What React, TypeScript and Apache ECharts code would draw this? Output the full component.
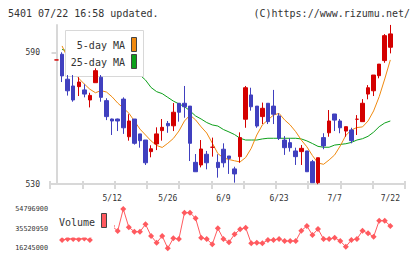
import React, { useEffect, useRef } from 'react';
import * as echarts from 'echarts';

const dates = ['4/23','4/24','4/25','4/28','4/30','5/1','5/2','5/7','5/8','5/9',
  '5/12','5/13','5/14','5/15','5/16','5/19','5/20','5/21','5/22','5/23',
  '5/26','5/27','5/28','5/29','5/30','6/2','6/3','6/4','6/5','6/6',
  '6/9','6/10','6/11','6/12','6/13','6/16','6/17','6/18','6/19','6/20',
  '6/23','6/24','6/25','6/26','6/27','6/30','7/1','7/2','7/3','7/4',
  '7/7','7/8','7/9','7/10','7/11','7/14','7/15','7/16','7/17','7/18','7/22'];

const dateLabelIdx = [10, 20, 30, 40, 50, 60];
const priceTicks = [530, 590];
const volumeTicks = [16245000, 35520950, 54796900];

const open = [586.7, 589.3, 577.9, 574.8, 574.5, 573.0, 568.4, 576.3, 578.8, 568.1,
  559.7, 559.7, 568.8, 551.6, 559.7, 552.9, 550.1, 544.8, 548.3, 554.4,
  557.7, 556.6, 566.9, 566.9, 565.6, 539.9, 538.7, 543.6, 546.8, 539.9,
  545.9, 542.8, 536.9, 542.5, 559.6, 570.7, 565.6, 560.8, 566.9, 565.6,
  561.1, 550.1, 548.9, 545.1, 544.8, 545.1, 540.2, 530.6, 551.2, 553.4,
  562.0, 558.8, 554.2, 554.7, 559.6, 558.5, 571.1, 572.6, 579.5, 586.4, 592.5];
const close = [586.7, 579.4, 572.6, 568.4, 576.6, 571.1, 570.5, 581.8, 569.6, 560.8,
  558.8, 558.8, 555.7, 558.8, 548.6, 549.8, 539.7, 546.1, 552.9, 555.9,
  556.6, 562.8, 562.8, 565.3, 548.6, 535.6, 546.0, 539.7, 546.8, 537.5,
  539.7, 541.7, 534.6, 551.2, 574.0, 565.3, 556.5, 564.6, 558.5, 561.9,
  550.9, 546.6, 546.6, 542.5, 546.3, 535.6, 530.6, 542.0, 547.4, 558.8,
  559.2, 555.7, 556.2, 549.8, 559.6, 566.9, 574.0, 579.8, 584.8, 597.8, 598.6];
const low = [586.7, 576.6, 570.4, 567.6, 570.2, 569.6, 565.0, 576.3, 567.6, 559.2,
  552.4, 554.2, 552.9, 549.8, 548.0, 546.6, 538.7, 542.2, 545.5, 549.8,
  553.4, 554.2, 558.5, 560.3, 540.5, 535.6, 537.6, 536.7, 542.5, 532.9,
  537.6, 534.6, 530.6, 539.7, 555.7, 563.5, 555.7, 557.4, 557.4, 557.4,
  550.1, 543.3, 544.8, 538.7, 538.7, 535.6, 530.6, 529.9, 545.9, 551.6,
  554.2, 553.2, 551.6, 548.6, 552.4, 558.5, 568.7, 570.2, 578.3, 585.4, 589.7];
const high = [586.7, 590.2, 579.8, 579.8, 578.8, 575.6, 571.7, 582.9, 579.8, 569.2,
  559.9, 559.9, 569.6, 561.9, 559.7, 552.9, 550.1, 547.7, 555.9, 559.7,
  558.8, 567.0, 566.9, 574.8, 565.6, 543.7, 550.1, 545.1, 551.2, 543.6,
  548.6, 542.8, 537.9, 553.6, 574.8, 574.0, 565.6, 567.2, 566.9, 573.0,
  562.3, 551.9, 550.9, 546.6, 547.8, 545.1, 541.0, 542.0, 553.2, 563.8,
  562.0, 559.7, 556.2, 555.7, 561.5, 568.8, 575.2, 579.8, 584.8, 598.5, 602.7];

const ma5 = [null, 593.1, 587.6, 582.1, 578.3, 575.7, 573.3, 571.7, 572.7, 572.0,
  569.8, 567.0, 564.7, 562.4, 558.8, 555.1, 552.4, 549.7, 547.6, 546.7,
  548.6, 550.8, 554.2, 558.8, 561.5, 559.3, 556.1, 553.3, 548.7, 543.9,
  541.9, 541.2, 540.6, 540.1, 542.1, 546.3, 552.4, 557.0, 559.3, 561.5,
  562.3, 559.3, 557.0, 553.9, 550.1, 547.0, 543.0, 539.6, 539.0, 541.0,
  543.3, 547.4, 552.2, 554.7, 555.8, 556.1, 558.8, 563.4, 569.9, 578.0, 586.7];
const ma25 = [null, 591.5, 590.8, 590.1, 589.4, 588.7, 588.0, 587.6, 586.9, 586.2,
  585.5, 584.6, 583.7, 582.6, 581.4, 579.8, 577.5, 574.1, 572.2, 571.3,
  569.6, 567.9, 566.6, 565.4, 563.4, 561.1, 559.7, 558.1, 557.0, 556.5,
  554.9, 553.8, 552.6, 550.9, 550.1, 550.1, 550.1, 550.6, 550.9, 550.9,
  550.9, 550.9, 550.9, 550.9, 550.6, 549.7, 548.5, 547.2, 546.8, 546.8,
  547.8, 548.1, 548.4, 549.0, 550.1, 550.7, 551.8, 553.7, 556.2, 557.9, 558.8];
const volume = [null, 24390000, 25370000, 25400000, 25070000, 25860000, 24390000, 38000000, 36000000, 33000000,
  38000000, 33220000, 54796900, 36850000, 32530000, 32530000, 39790000, 28310000, 21740000, 28310000,
  16245000, 26050000, 25370000, 51170000, 51170000, 45670000, 26640000, 25370000, 20170000, 35860000,
  25370000, 22130000, 29980000, 34880000, 36450000, 21150000, 21740000, 21150000, 24390000, 24390000,
  25370000, 23410000, 23410000, 23410000, 33510000, 38120000, 29290000, 35180000, 25370000, 25370000,
  26640000, 23410000, 17810000, 24390000, 25370000, 33510000, 30960000, 27620000, 43320000, 43320000, 38120000];

const FONT = '"DejaVu Sans Mono", "Liberation Mono", monospace';
const UP = '#d40000';
const DOWN = '#4040bf';
const MA5C = '#f08a10';
const MA25C = '#0da01a';
const VOLC = '#ff5a5f';
const AXISC = '#d8d8d8';
const X_MIN = -1.17;
const X_MAX = 62.64;

const pairs = (arr: (number | null)[]) =>
  arr.map((v, i) => (v == null ? null : [i, v])).filter((p) => p !== null);

export default function App() {
  const ref = useRef<HTMLDivElement>(null);
  useEffect(() => {
    document.body.style.margin = '0';
    if (!ref.current) return;
    const chart = echarts.init(ref.current, undefined, { renderer: 'svg' });
    const candleData = dates.map((_, i) => [i, open[i], close[i], low[i], high[i]]);
    chart.setOption({
      animation: false,
      grid: [
        { left: 50, right: 15, top: 25, height: 159, outerBoundsMode: 'none' },
        { left: 50, right: 15, top: 209, height: 39.3, outerBoundsMode: 'none' },
      ],
      xAxis: [
        {
          gridIndex: 0, type: 'value', min: X_MIN, max: X_MAX,
          axisLine: { show: true, onZero: false, lineStyle: { color: AXISC, width: 2 } },
          axisTick: { show: false },
          splitLine: { show: false },
          axisLabel: {
            customValues: dateLabelIdx,
            formatter: (v: number) => dates[Math.round(v)] ?? '',
            fontSize: 8, fontFamily: FONT, color: '#333', margin: 10,
          },
        },
        {
          gridIndex: 0, type: 'value', min: 0, max: 11, interval: 1, position: 'bottom',
          axisLine: { show: false }, axisLabel: { show: false }, splitLine: { show: false },
          axisTick: { show: true, length: 5, lineStyle: { color: AXISC, width: 2 } },
        },
        {
          gridIndex: 0, type: 'value', min: 0, max: 11, interval: 1, position: 'bottom',
          axisLine: { show: false }, axisLabel: { show: false }, splitLine: { show: false },
          axisTick: { show: true, inside: true, length: 3, lineStyle: { color: AXISC, width: 2 } },
        },
        { gridIndex: 1, type: 'value', min: X_MIN, max: X_MAX, show: false },
      ],
      yAxis: [
        {
          gridIndex: 0, type: 'value', min: 530, max: 602.67,
          splitLine: { show: false },
          axisLine: { show: true, lineStyle: { color: AXISC, width: 2 } },
          axisTick: { show: true, length: 5, customValues: priceTicks, lineStyle: { color: AXISC, width: 2 } },
          axisLabel: { customValues: priceTicks, fontSize: 8, fontFamily: FONT, color: '#333', margin: 10 },
        },
        {
          gridIndex: 1, type: 'value', min: volumeTicks[0], max: volumeTicks[2],
          splitLine: { show: false },
          axisLine: { show: false },
          axisTick: { show: false },
          axisLabel: {
            customValues: volumeTicks,
            formatter: (v: number) => String(Math.round(v)),
            fontSize: 6.8, fontFamily: FONT, color: '#333', margin: 2,
          },
        },
      ],
      series: [
        {
          type: 'line', name: '25-day MA', xAxisIndex: 0, yAxisIndex: 0, z: 2,
          data: pairs(ma25), showSymbol: false, symbol: 'none',
          lineStyle: { color: MA25C, width: 1 },
        },
        {
          type: 'line', name: '5-day MA', xAxisIndex: 0, yAxisIndex: 0, z: 2,
          data: pairs(ma5), showSymbol: false, symbol: 'none',
          lineStyle: { color: MA5C, width: 1 },
        },
        {
          type: 'candlestick', xAxisIndex: 0, yAxisIndex: 0, z: 4,
          dimensions: ['i', 'open', 'close', 'low', 'high'],
          encode: { x: 'i', y: ['open', 'close', 'low', 'high'] },
          data: candleData, barWidth: 4,
          itemStyle: { color: UP, color0: DOWN, borderColor: UP, borderColor0: DOWN, borderWidth: 1 },
        },
        {
          type: 'line', name: 'Volume', xAxisIndex: 3, yAxisIndex: 1, z: 2,
          data: pairs(volume), symbol: 'diamond', symbolSize: 6, showSymbol: true,
          lineStyle: { color: VOLC, width: 1 }, itemStyle: { color: VOLC },
        },
      ],
      graphic: [
        { type: 'text', x: 8, y: 13, z: 10, style: { text: '5401 07/22 16:58 updated.', font: `10px ${FONT}`, fill: '#333', textAlign: 'left', textVerticalAlign: 'middle' } },
        { type: 'text', x: 410, y: 13, z: 10, style: { text: '(C)https://www.rizumu.net/', font: `10px ${FONT}`, fill: '#333', textAlign: 'right', textVerticalAlign: 'middle' } },
        { type: 'rect', z: 3, shape: { x: 65.5, y: 30.5, width: 78, height: 46 }, style: { fill: '#fff', stroke: '#d8d8d8', lineWidth: 1 } },
        { type: 'text', x: 125, y: 45, z: 10, style: { text: '5-day MA', font: `10px ${FONT}`, fill: '#333', textAlign: 'right', textVerticalAlign: 'middle' } },
        { type: 'text', x: 125, y: 62, z: 10, style: { text: '25-day MA', font: `10px ${FONT}`, fill: '#333', textAlign: 'right', textVerticalAlign: 'middle' } },
        { type: 'rect', z: 10, shape: { x: 131.5, y: 37.5, width: 5, height: 14 }, style: { fill: MA5C, stroke: '#444', lineWidth: 1 } },
        { type: 'rect', z: 10, shape: { x: 131.5, y: 54.5, width: 5, height: 14 }, style: { fill: MA25C, stroke: '#444', lineWidth: 1 } },
        { type: 'rect', z: 3, shape: { x: 56, y: 205, width: 58, height: 32.5 }, style: { fill: '#fff' } },
        { type: 'text', x: 59, y: 222, z: 10, style: { text: 'Volume', font: `10px ${FONT}`, fill: '#333', textAlign: 'left', textVerticalAlign: 'middle' } },
        { type: 'rect', z: 10, shape: { x: 101.5, y: 213.5, width: 5, height: 14 }, style: { fill: VOLC, stroke: '#444', lineWidth: 1 } },
      ],
    });
    return () => chart.dispose();
  }, []);
  return <div ref={ref} style={{ width: 420, height: 259 }} />;
}
